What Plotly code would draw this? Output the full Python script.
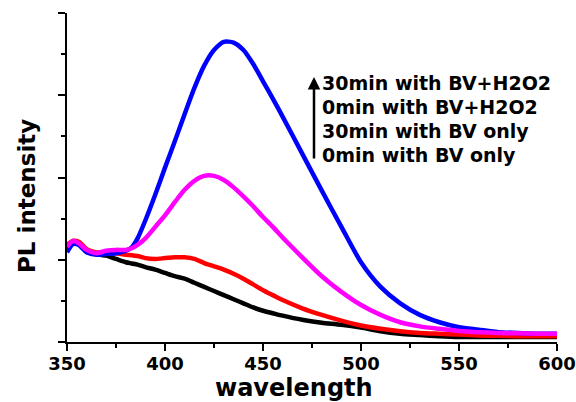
import plotly.graph_objects as go

wavelength = [350, 353, 356, 360, 365, 370, 375, 380, 383, 386, 390, 395, 400, 405, 410, 415,
              420, 425, 430, 435, 440, 445, 450, 455, 460, 470, 480, 490, 500, 510, 520,
              530, 540, 550, 560, 570, 580, 590, 600]

bv_0min = [1.14, 1.20, 1.19, 1.12, 1.07, 1.05, 1.01, 0.97, 0.955, 0.94, 0.91, 0.88, 0.84, 0.80, 0.77, 0.72,
           0.67, 0.62, 0.57, 0.52, 0.47, 0.42, 0.38, 0.35, 0.32, 0.27, 0.235, 0.21, 0.175, 0.13, 0.10,
           0.085, 0.07, 0.06, 0.06, 0.06, 0.06, 0.06, 0.06]

bv_30min = [1.18, 1.23, 1.22, 1.13, 1.09, 1.09, 1.08, 1.06, 1.055, 1.045, 1.02, 1.01, 1.02, 1.03, 1.03, 1.01,
            0.96, 0.92, 0.88, 0.83, 0.77, 0.70, 0.63, 0.57, 0.51, 0.41, 0.33, 0.26, 0.20, 0.16, 0.13,
            0.11, 0.10, 0.09, 0.08, 0.075, 0.07, 0.07, 0.07]

h2o2_0min = [1.155, 1.23, 1.20, 1.12, 1.08, 1.11, 1.12, 1.12, 1.14, 1.18, 1.26, 1.40, 1.54, 1.70, 1.85, 1.96,
             2.02, 2.02, 1.97, 1.88, 1.77, 1.65, 1.52, 1.40, 1.27, 1.03, 0.80, 0.61, 0.45, 0.33, 0.24,
             0.19, 0.16, 0.135, 0.12, 0.11, 0.105, 0.10, 0.10]

h2o2_30min = [1.09, 1.19, 1.18, 1.09, 1.06, 1.07, 1.08, 1.11, 1.15, 1.26, 1.48, 1.79, 2.12, 2.44, 2.77, 3.09,
              3.36, 3.55, 3.65, 3.64, 3.55, 3.38, 3.17, 2.96, 2.74, 2.29, 1.84, 1.40, 0.97, 0.67, 0.47,
              0.33, 0.24, 0.18, 0.15, 0.12, 0.11, 0.10, 0.10]

legend_labels = ["30min with BV+H2O2", "0min with BV+H2O2", "30min with BV only", "0min with BV only"]

x_ticks = [350, 400, 450, 500, 550, 600]

FONT = "DejaVu Sans"

fig = go.Figure()
series = [
    (bv_0min, "black", legend_labels[3]),
    (bv_30min, "#ff0000", legend_labels[2]),
    (h2o2_30min, "#0000ff", legend_labels[0]),
    (h2o2_0min, "#ff00ff", legend_labels[1]),
]
for vals, col, name in series:
    fig.add_trace(go.Scatter(x=wavelength, y=vals, mode="lines", name=name,
                             line=dict(color=col, width=4.5, shape="spline", smoothing=0.7),
                             showlegend=False))

# plot area in pixels: x 67..557, y 13..342
L, R, T, B = 67, 557, 13, 342
W, H = R - L, B - T


def px(xp):
    return (xp - L) / W


def py(yp):
    return (B - yp) / H


annotations = []
ys = [83, 107, 131, 155]
for lab, yy in zip(legend_labels, ys):
    annotations.append(dict(xref="paper", yref="paper", x=px(320), y=py(yy), xanchor="left",
                            yanchor="middle", text="<b>" + lab + "</b>", showarrow=False,
                            font=dict(family=FONT, size=19, color="black")))
# arrow
annotations.append(dict(xref="paper", yref="paper", x=px(314), y=py(77), ax=0, ay=83,
                        axref="pixel", ayref="pixel", text="", showarrow=True, arrowhead=2,
                        arrowsize=1, arrowwidth=2.5, arrowcolor="black"))
# axis titles
annotations.append(dict(xref="paper", yref="paper", x=px(294), y=py(388), xanchor="center",
                        yanchor="middle", text="<b>wavelength</b>", showarrow=False,
                        font=dict(family=FONT, size=24, color="black")))
annotations.append(dict(xref="paper", yref="paper", x=px(27), y=py(196), xanchor="center",
                        yanchor="middle", text="<b>PL intensity</b>", showarrow=False, textangle=-90,
                        font=dict(family=FONT, size=23, color="black")))

fig.update_layout(
    width=576, height=402,
    margin=dict(l=L, r=576 - R, t=T, b=402 - B, pad=0, autoexpand=False),
    paper_bgcolor="white", plot_bgcolor="white",
    annotations=annotations,
    xaxis=dict(range=[350, 600], tickvals=x_ticks, ticktext=["<b>%d</b>" % v for v in x_ticks],
               automargin=False,
               showgrid=False, zeroline=False, showline=True, linecolor="black", linewidth=2,
               ticks="outside", ticklen=7, tickwidth=2, tickcolor="black",
               ticklabelstandoff=-3,
               tickfont=dict(family=FONT, size=18, color="black", weight="bold"),
               minor=dict(tickvals=[375, 425, 475, 525, 575], ticks="outside", ticklen=4,
                          tickwidth=2, tickcolor="black"),
               fixedrange=True),
    yaxis=dict(range=[0, 4], tickvals=[0, 1, 2, 3, 4], showticklabels=False, automargin=False,
               showgrid=False, zeroline=False, showline=True, linecolor="black", linewidth=2,
               ticks="outside", ticklen=7, tickwidth=2, tickcolor="black",
               minor=dict(tickvals=[0.5, 1.5, 2.5, 3.5], ticks="outside", ticklen=4,
                          tickwidth=2, tickcolor="black"),
               fixedrange=True),
)

fig.write_html("out.html")
